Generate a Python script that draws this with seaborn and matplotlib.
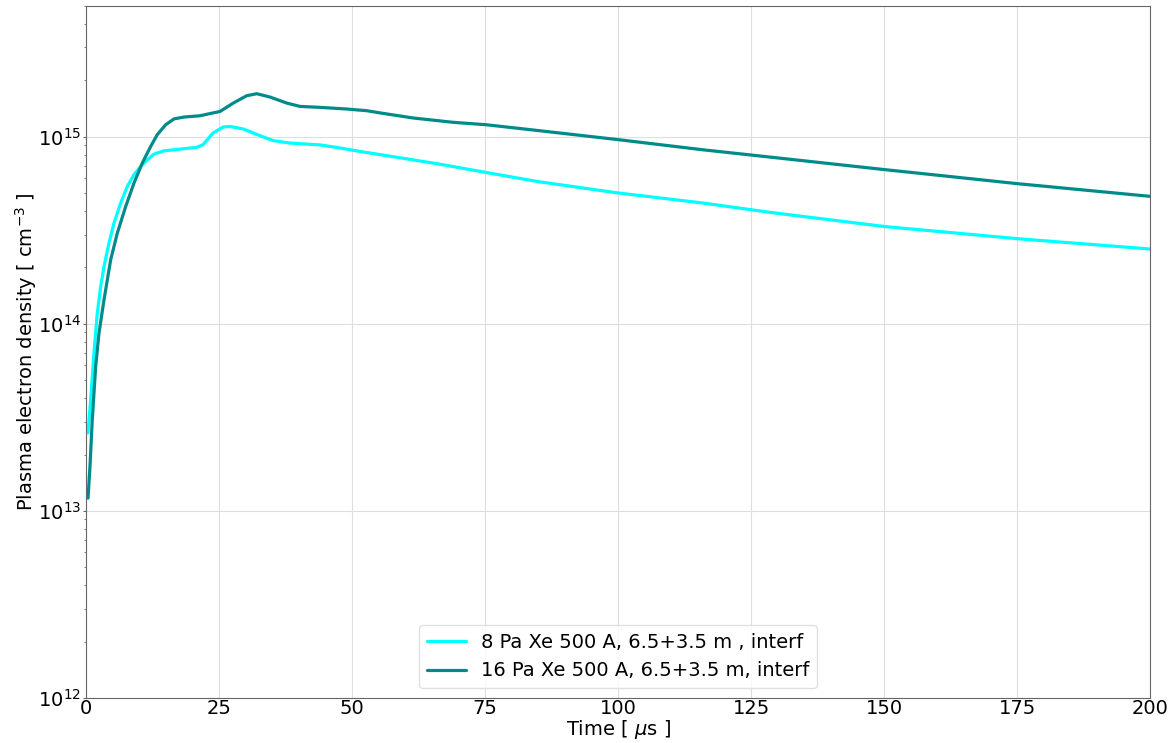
import matplotlib
matplotlib.use("Agg")
import matplotlib.pyplot as plt
import seaborn as sns
import pandas as pd

# 8 Pa Xe series
t_8pa = [0.38, 0.88, 1.50, 2.12, 2.76, 3.38, 4.32, 5.26, 6.52, 7.76, 9.02, 10.28, 11.52,
         12.78, 14.66, 16.54, 18.42, 20.8, 22.0, 23.9, 25.8, 27.1, 29.6, 32.7, 35.2,
         38.3, 44.0, 47.7, 51.5, 55.3, 65.9, 75.2, 84.7, 100.1, 116.0, 128.6, 150.1,
         175.1, 200]
ne_8pa = [2.61e13, 3.93e13, 7.00e13, 1.14e14, 1.58e14, 2.02e14, 2.70e14, 3.45e14,
          4.42e14, 5.42e14, 6.27e14, 6.93e14, 7.53e14, 8.07e14, 8.41e14, 8.51e14,
          8.63e14, 8.77e14, 9.06e14, 1.047e15, 1.127e15, 1.135e15, 1.099e15, 1.012e15,
          9.53e14, 9.25e14, 9.04e14, 8.71e14, 8.34e14, 8.02e14, 7.18e14, 6.44e14,
          5.77e14, 5.00e14, 4.42e14, 3.94e14, 3.31e14, 2.85e14, 2.51e14]

# 16 Pa Xe series
t_16pa = [0.38, 0.75, 1.18, 1.82, 2.44, 3.38, 4.64, 5.88, 7.46, 9.02, 10.58, 12.16,
          13.4, 14.98, 16.54, 18.42, 21.4, 25.2, 27.7, 30.2, 32.1, 34.6, 37.7, 40.2,
          44.0, 49.0, 52.8, 55.3, 61.5, 69.0, 75.2, 84.7, 100.1, 116.0, 128.6, 150.1,
          175.1, 200]
ne_16pa = [1.17e13, 1.73e13, 3.07e13, 5.92e13, 8.91e13, 1.34e14, 2.20e14, 3.05e14,
           4.24e14, 5.65e14, 7.23e14, 8.87e14, 1.026e15, 1.159e15, 1.245e15, 1.274e15,
           1.294e15, 1.365e15, 1.514e15, 1.656e15, 1.698e15, 1.629e15, 1.514e15,
           1.452e15, 1.435e15, 1.406e15, 1.377e15, 1.340e15, 1.259e15, 1.194e15,
           1.159e15, 1.081e15, 9.64e14, 8.51e14, 7.78e14, 6.67e14, 5.61e14, 4.80e14]

labels = ["8 Pa Xe 500 A, 6.5+3.5 m , interf", "16 Pa Xe 500 A, 6.5+3.5 m, interf"]
colors = ["#00FFFF", "#008B8B"]
xticks = [0, 25, 50, 75, 100, 125, 150, 175, 200]

df = pd.concat([
    pd.DataFrame({"t": t_8pa, "ne": ne_8pa, "series": labels[0]}),
    pd.DataFrame({"t": t_16pa, "ne": ne_16pa, "series": labels[1]}),
])

sns.set_style("whitegrid", {"axes.edgecolor": "0.4", "grid.color": "0.87",
                            "ytick.left": True, "xtick.bottom": True,
                            "text.color": "black", "axes.labelcolor": "black",
                            "xtick.color": "black", "ytick.color": "black"})
plt.rcParams["font.family"] = ["DejaVu Sans"]

fig, ax = plt.subplots(figsize=(11.7, 7.43), dpi=100)
fig.subplots_adjust(left=0.0735, right=0.983, top=0.992, bottom=0.0606)

sns.lineplot(data=df, x="t", y="ne", hue="series", palette=colors,
             hue_order=labels, linewidth=2.3, ax=ax, sort=True, estimator=None)

ax.set_yscale("log")
ax.set_xlim(0, 200)
ax.set_ylim(1e12, 5e15)
ax.set_xticks(xticks)
ax.tick_params(axis="x", which="major", labelsize=14, length=0, pad=1)
ax.tick_params(axis="y", which="major", labelsize=14, length=2.5, pad=1,
               color="0.4")
ax.tick_params(axis="y", which="minor", length=1.5, color="0.4")
ax.set_xlabel("Time [ $\\mu$s ]", fontsize=14, labelpad=0)
ax.set_ylabel("Plasma electron density [ cm$^{-3}$ ]", fontsize=14, labelpad=-1)
ax.grid(True, which="major", color="0.87")
ax.grid(False, which="minor")

leg = ax.legend(loc="lower center", fontsize=14, frameon=True,
                bbox_to_anchor=(0.5, 0.0))
leg.get_frame().set_edgecolor("0.85")

fig.savefig("out.png", dpi=100)
